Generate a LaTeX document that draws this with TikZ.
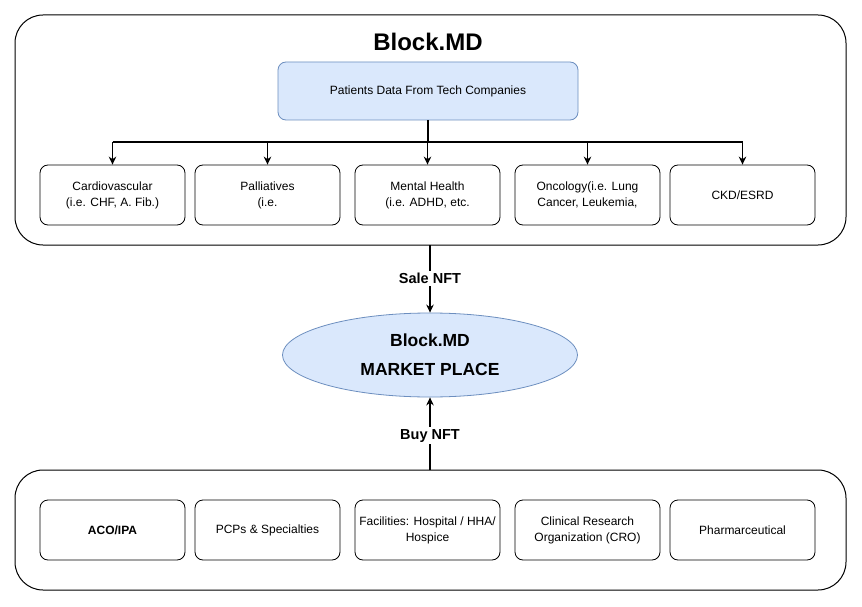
\documentclass[tikz,border=0pt]{standalone}
\usepackage{fontspec}
\setmainfont{Liberation Sans}
\usetikzlibrary{shapes.geometric,arrows.meta}
\definecolor{bluefill}{HTML}{DAE8FC}
\definecolor{blueline}{HTML}{6C8EBF}
\begin{document}
\begin{tikzpicture}[x=1pt,y=-1pt,
  container/.style={draw=black,line width=1pt,rounded corners=28pt},
  catbox/.style={draw=black,line width=0.8pt,rounded corners=8pt,minimum width=145pt,minimum height=60pt,align=center,font=\fontsize{12}{16}\selectfont,inner sep=2pt},
  srcbox/.style={draw=blueline,fill=bluefill,line width=0.8pt,rounded corners=8pt,minimum width=300pt,minimum height=58pt,font=\fontsize{12}{15}\selectfont},
  market/.style={ellipse,draw=blueline,fill=bluefill,line width=0.8pt,minimum width=295pt,minimum height=84pt,align=center,font=\bfseries\fontsize{17.5}{29}\selectfont,inner sep=0pt},
  conn/.style={line width=1.6pt,-{Stealth[length=8pt,width=7.5pt]}},
  lbl/.style={fill=white,font=\bfseries\fontsize{14.5}{17}\selectfont,inner sep=2pt}
]
\useasboundingbox (0,0) rectangle (862,607);
\fill[white] (0,0) rectangle (862,607);
% containers
\draw[container] (15,15) rectangle (846,245);
\coordinate (topc) at (430,245);
\draw[container] (15,470) rectangle (846,590);
\coordinate (botc) at (430,470);
\node[font=\bfseries\fontsize{24}{28}\selectfont] (title) at (428,42) {Block.MD};
\node[srcbox] (src) at (428,91) {Patients Data From Tech Companies};
% categories
\node[catbox] (c1) at (112.5,195) {Cardiovascular\\(i.e. CHF, A. Fib.)};
\node[catbox] (c2) at (267.5,195) {Palliatives\\(i.e.};
\node[catbox] (c3) at (427.5,195) {Mental Health\\(i.e. ADHD, etc.};
\node[catbox] (c4) at (587.5,195) {Oncology(i.e. Lung\\Cancer, Leukemia,};
\node[catbox] (c5) at (742.5,195) {CKD/ESRD};
\coordinate (bus) at (428,142);
\draw[line width=1.6pt] (src.south) -- (bus);
\draw[line width=1.6pt] (c1.north |- bus) -- (c5.north |- bus);
\foreach \c in {c1,c2,c3,c4,c5}{
  \draw[conn] (\c.north |- bus) -- (\c.north);
}
% market
\node[market] (mkt) at (430,355) {Block.MD\\MARKET PLACE};
\draw[conn] (topc) -- node[lbl,pos=0.5] {Sale NFT} (mkt.north);
\draw[conn] (botc) -- node[lbl,pos=0.47] {Buy NFT} (mkt.south);
% buyers
\node[catbox] (b1) at (112.5,530) {\bfseries ACO/IPA};
\node[catbox] (b2) at (267.5,530) {PCPs \& Specialties};
\node[catbox] (b3) at (427.5,530) {Facilities: Hospital / HHA/\\Hospice};
\node[catbox] (b4) at (587.5,530) {Clinical Research\\Organization (CRO)};
\node[catbox] (b5) at (742.5,530) {Pharmarceutical};
\end{tikzpicture}
\end{document}
